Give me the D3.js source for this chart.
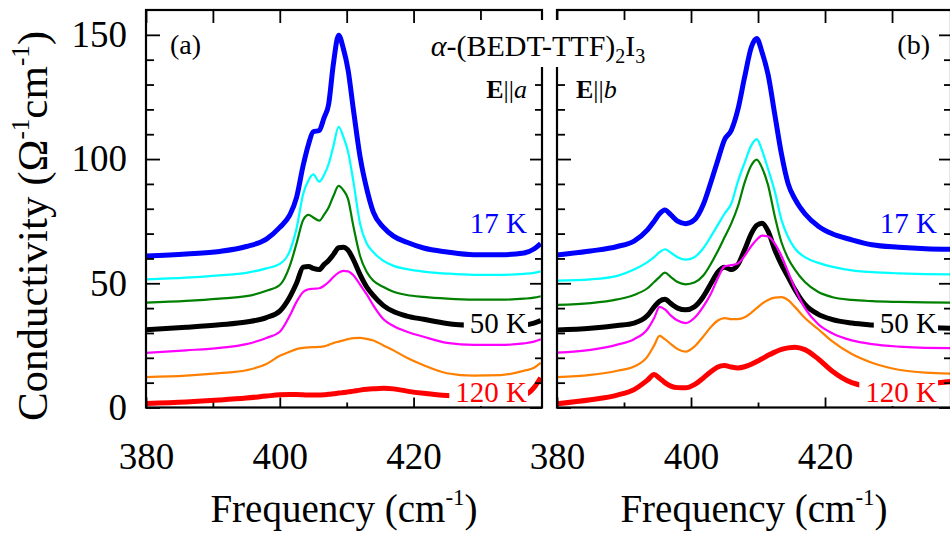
<!DOCTYPE html>
<html><head><meta charset="utf-8">
<script src="https://cdn.jsdelivr.net/npm/d3@7/dist/d3.min.js"></script>
<style>
body{margin:0;background:#fff}
svg{display:block}
text{font-family:"Liberation Serif","Times New Roman",serif}
</style>
</head><body>
<svg id="c" width="950" height="533"></svg>
<script>
// ---------- DATA ----------
// Panel (a): E || a
const freqA = [380, 386, 391, 395, 398, 400, 401.5, 402.5, 403.5, 404.3, 405, 405.9, 406.6, 407.3, 408, 408.8, 409.5, 410.2, 411, 412, 413, 414, 415.5, 417, 419, 421.5, 425, 429, 433, 436.5, 438, 439];
const a17K  = [61.0, 61.8, 62.8, 64.8, 67.8, 72.5, 77.5, 84.5, 97.5, 106, 111, 111.5, 116.5, 122, 138, 149.8, 144.5, 136, 120, 101, 88, 78.5, 72.5, 69, 66.5, 64.2, 62.6, 61.5, 61.5, 62.2, 63.8, 66];
const aT2   = [51.6, 52.3, 53.2, 54.2, 56, 57.8, 63, 72, 86, 91.5, 93.8, 90.9, 93.5, 98, 105, 113, 109, 103, 91, 74, 66, 62.5, 59, 57, 55.7, 54.7, 53.9, 53.4, 53.4, 53.8, 54.2, 54.8];
const aT3   = [42.2, 42.9, 43.8, 44.8, 47, 49.3, 57, 66, 75.5, 77.5, 76.5, 75.2, 77.5, 80.5, 85, 89.2, 87.5, 84, 73, 61, 54.5, 51, 48.5, 46.6, 45.3, 44.5, 43.8, 43.4, 43.4, 43.8, 44.2, 44.8];
const a50K  = [31.3, 32.3, 33.3, 34.4, 36.2, 38.8, 44.5, 50, 56.5, 56.8, 56, 55.5, 57.5, 59.2, 61.5, 64.3, 64.5, 63.3, 59.5, 53.5, 48.5, 45, 41, 38.6, 36.8, 35.5, 33.8, 33, 32.8, 33.2, 34, 35];
const aT5   = [22, 23, 24, 25.5, 28, 30.5, 37, 42.5, 46.5, 47.6, 47.8, 48, 49, 50.5, 52.5, 54.3, 55, 54.8, 53.2, 49.5, 45.5, 41, 35.5, 32.8, 30.5, 28.5, 26, 25.2, 25.2, 25.8, 26.5, 27.5];
const aT6   = [12.2, 12.8, 13.8, 15, 17.5, 20.8, 22.5, 23.5, 24, 24.2, 24.3, 24.4, 24.6, 25.2, 25.9, 26.5, 27, 27.5, 27.9, 28, 27.6, 27, 25, 23, 20, 17, 13.8, 12.8, 13, 14.8, 16, 18];
const a120K = [1.6, 2.2, 3, 3.8, 4.6, 5.1, 5.2, 5.2, 5.1, 5, 5, 5, 5.1, 5.3, 5.5, 5.8, 6, 6.3, 6.6, 7, 7.3, 7.5, 7.7, 7.5, 6.6, 5.7, 4.8, 4.5, 4.4, 5, 8, 12];

// Panel (b): E || b
const freqB = [380, 385, 389, 391.5, 393.5, 394.5, 395.3, 396.1, 397, 398, 399.2, 400.5, 401.8, 403, 404, 405, 406, 407, 408, 409, 409.8, 410.6, 411.5, 412.5, 413.5, 414.5, 415.5, 417, 419, 421, 424, 427, 431, 435, 439];
const b17K  = [61.4, 63, 64.8, 67, 71.5, 75, 78, 79.5, 77.5, 75, 74, 75.5, 81.5, 91, 99.5, 107.8, 111.5, 120, 133, 145, 148.5, 143, 134, 118, 102, 90, 84, 78, 73, 70, 67.5, 65.5, 64.5, 63.9, 63.7];
const bT2   = [51.1, 51.6, 53, 55.5, 58.5, 60.5, 62.5, 63.7, 62.3, 60.5, 59.5, 60.5, 64, 69, 73.5, 78, 82, 91, 98.5, 105.5, 108, 103.5, 96, 87, 75.5, 68.5, 64, 60.5, 58.2, 56.7, 55.2, 54.5, 54, 53.7, 53.6];
const bT3   = [41.3, 42, 43.5, 45.3, 48, 50.5, 52.5, 54.3, 52.5, 50.5, 49.6, 50.3, 53, 58, 63, 68.5, 74, 81, 90.5, 97.5, 99.8, 96.5, 89.5, 77, 66.5, 60, 55.5, 50.5, 46.5, 44.5, 43.3, 42.8, 42.5, 42.3, 42.2];
const b50K  = [31.2, 31.9, 33, 34, 37, 40.5, 42.8, 43.6, 41.8, 40, 39.3, 40.5, 44.5, 50, 54.5, 56.5, 55.5, 57.5, 63.5, 70, 73.3, 74.2, 71, 63.5, 57.5, 52.5, 47.5, 41.5, 37.5, 35.5, 34, 33.2, 32.5, 32.2, 31.9];
const bT5   = [22.1, 23.2, 25.3, 27.5, 31.5, 36, 40.5, 39.5, 37, 35, 34, 36, 40.5, 46, 52, 56.8, 57.3, 58, 61, 65, 67.5, 69.2, 68.8, 66, 61, 54.5, 48, 40, 33.5, 30, 27, 25.5, 24.5, 24, 23.9];
const bT6   = [12.2, 13.1, 14.8, 16.5, 20.5, 25, 28.8, 27.5, 25.5, 23.5, 22.5, 24.5, 28.5, 32.5, 35, 36, 35.6, 35.6, 36.3, 38.2, 40, 41.8, 43.3, 44.2, 44.4, 43.2, 40.5, 36, 31.5, 26.8, 21.5, 18, 15.2, 14, 13.6];
const b120K = [1.5, 3.1, 5, 7.2, 11, 13.3, 11.8, 10, 8.6, 8, 7.9, 9.2, 11.8, 14.5, 16.3, 16.9, 16.3, 15.9, 16.4, 17.4, 18.5, 19.6, 21, 22.3, 23.4, 24, 24.3, 23.3, 19.5, 14.8, 10, 8.5, 8.5, 9.5, 10.5];

// tick values and labels
const yMajor = [0, 50, 100, 150];
const yMinor = [10, 20, 30, 40, 60, 70, 80, 90, 110, 120, 130, 140];
const xMajor = [380, 400, 420];
const xMinor = [390, 410, 430];
const tempLabels = ["17 K", "50 K", "120 K"];

// ---------- STYLES ----------
const colors = ["#0000ff", "#00ffff", "#008000", "#000000", "#ff00ff", "#ff8000", "#ff0000"];
const widths = [5, 2.2, 2.2, 5, 2.2, 2.2, 5];
const labelColors = ["#0000ff", "#000000", "#ff0000"];

const svg = d3.select("#c");
const yTop = 10, yBot = 407.5;
const y = d3.scaleLinear().domain([0, 160]).range([yBot, yTop]);

const panels = [
  {x0: 146, x1: 542, dom: [380, 439.2], freq: freqA, series: [a17K, aT2, aT3, a50K, aT5, aT6, a120K], id: "a"},
  {x0: 557, x1: 951, dom: [380, 438.8], freq: freqB, series: [b17K, bT2, bT3, b50K, bT5, bT6, b120K], id: "b"}
];

const defs = svg.append("defs");

function styleAxis(g) {
  g.select(".domain").remove();
  g.selectAll(".tick line").attr("stroke", "#000").attr("stroke-width", 1.8);
  g.selectAll("text").attr("font-family", '"Liberation Serif","Times New Roman",serif')
    .attr("font-size", 37).attr("fill", "#000");
}

panels.forEach((p, pi) => {
  const x = d3.scaleLinear().domain(p.dom).range([p.x0, p.x1]);
  defs.append("clipPath").attr("id", "clip" + p.id)
    .append("rect").attr("x", p.x0).attr("y", yTop).attr("width", p.x1 - p.x0).attr("height", yBot - yTop);

  // curves
  const line = d3.line().x((d, i) => x(p.freq[i])).y(d => y(d)).curve(d3.curveMonotoneX);
  const g = svg.append("g").attr("clip-path", `url(#clip${p.id})`);
  p.series.forEach((s, si) => {
    g.append("path").datum(s).attr("d", line)
      .attr("fill", "none").attr("stroke", colors[si]).attr("stroke-width", widths[si])
      .attr("stroke-linejoin", "round").attr("stroke-linecap", "butt");
  });

  // axes: bottom
  svg.append("g").attr("transform", `translate(0,${yBot})`)
    .call(d3.axisBottom(x).tickValues(xMajor).tickSize(-10).tickPadding(35).tickFormat(d3.format("d")))
    .call(styleAxis);
  svg.append("g").attr("transform", `translate(0,${yBot})`)
    .call(d3.axisBottom(x).tickValues(xMinor).tickSize(-5).tickFormat(""))
    .call(styleAxis);
  // top
  svg.append("g").attr("transform", `translate(0,${yTop})`)
    .call(d3.axisTop(x).tickValues(xMajor.concat(xMinor)).tickSize(-13).tickFormat(""))
    .call(styleAxis);
  // left
  const la = d3.axisLeft(y).tickValues(yMajor).tickSize(-14).tickPadding(19);
  if (pi === 1) la.tickFormat("");
  svg.append("g").attr("transform", `translate(${p.x0},0)`).call(la).call(styleAxis);
  svg.append("g").attr("transform", `translate(${p.x0},0)`)
    .call(d3.axisLeft(y).tickValues(yMinor).tickSize(-8).tickFormat("")).call(styleAxis);
  // right
  svg.append("g").attr("transform", `translate(${p.x1},0)`)
    .call(d3.axisRight(y).tickValues(yMajor).tickSize(-12).tickFormat("")).call(styleAxis);
  svg.append("g").attr("transform", `translate(${p.x1},0)`)
    .call(d3.axisRight(y).tickValues(yMinor).tickSize(-7).tickFormat("")).call(styleAxis);

  // frame
  svg.append("rect").attr("x", p.x0).attr("y", yTop).attr("width", p.x1 - p.x0).attr("height", yBot - yTop)
    .attr("fill", "none").attr("stroke", "#000").attr("stroke-width", 2.2);

  // x title
  const xt = svg.append("text").attr("x", (p.x0 + p.x1) / 2).attr("y", 522)
    .attr("text-anchor", "middle").attr("font-size", 39).style("fill", "#000");
  xt.append("tspan").text("Frequency (cm");
  xt.append("tspan").attr("font-size", 23).attr("dy", -17).text("-1");
  xt.append("tspan").attr("dy", 17).text(")");

  // temperature labels with white boxes
  const lblY = [233, 333, 402];
  const lblRight = pi === 0 ? 527 : 937;
  tempLabels.forEach((t, k) => {
    const lg = svg.append("g");
    const txt = lg.append("text").attr("x", lblRight).attr("y", lblY[k])
      .attr("text-anchor", "end").attr("font-size", 29).style("fill", labelColors[k]).text(t);
    const bb = txt.node().getBBox();
    lg.insert("rect", "text").attr("x", bb.x - 6).attr("y", bb.y + 2)
      .attr("width", bb.width + 7).attr("height", bb.height - 4).attr("fill", "#fff");
  });
});

// panel letters
svg.append("text").attr("x", 170).attr("y", 54).attr("font-size", 28).style("fill", "#000").text("(a)");
svg.append("text").attr("x", 930).attr("y", 54).attr("text-anchor", "end").attr("font-size", 28).style("fill", "#000").text("(b)");

// polarisation labels
const ea = svg.append("text").attr("x", 527).attr("y", 98).attr("text-anchor", "end").attr("font-size", 26).style("fill", "#000");
ea.append("tspan").attr("font-weight", "bold").text("E");
ea.append("tspan").text("||");
ea.append("tspan").attr("font-style", "italic").text("a");
const eb = svg.append("text").attr("x", 576).attr("y", 98).attr("font-size", 26).style("fill", "#000");
eb.append("tspan").attr("font-weight", "bold").text("E");
eb.append("tspan").text("||");
eb.append("tspan").attr("font-style", "italic").text("b");

// compound title with white background over the panel borders
const tg = svg.append("g");
const tt = tg.append("text").attr("x", 538).attr("y", 56).attr("text-anchor", "middle").attr("font-size", 30).style("fill", "#000");
tt.append("tspan").attr("font-style", "italic").text("α");
tt.append("tspan").text("-(BEDT-TTF)");
tt.append("tspan").attr("font-size", 20).attr("dy", 7).text("2");
tt.append("tspan").attr("dy", -7).text("I");
tt.append("tspan").attr("font-size", 20).attr("dy", 7).text("3");
const tb = tt.node().getBBox();
tg.insert("rect", "text").attr("x", tb.x - 3).attr("y", 20).attr("width", tb.width + 6).attr("height", 47).attr("fill", "#fff");

// y title
const yt = svg.append("text").attr("transform", "translate(47,226) rotate(-90)")
  .attr("text-anchor", "middle").attr("font-size", 43).style("fill", "#000");
yt.append("tspan").text("Conductivity (Ω");
yt.append("tspan").attr("font-size", 25).attr("dy", -18).text("-1");
yt.append("tspan").attr("dy", 18).text("cm");
yt.append("tspan").attr("font-size", 25).attr("dy", -18).text("-1");
yt.append("tspan").attr("dy", 18).text(")");
</script>
</body></html>
